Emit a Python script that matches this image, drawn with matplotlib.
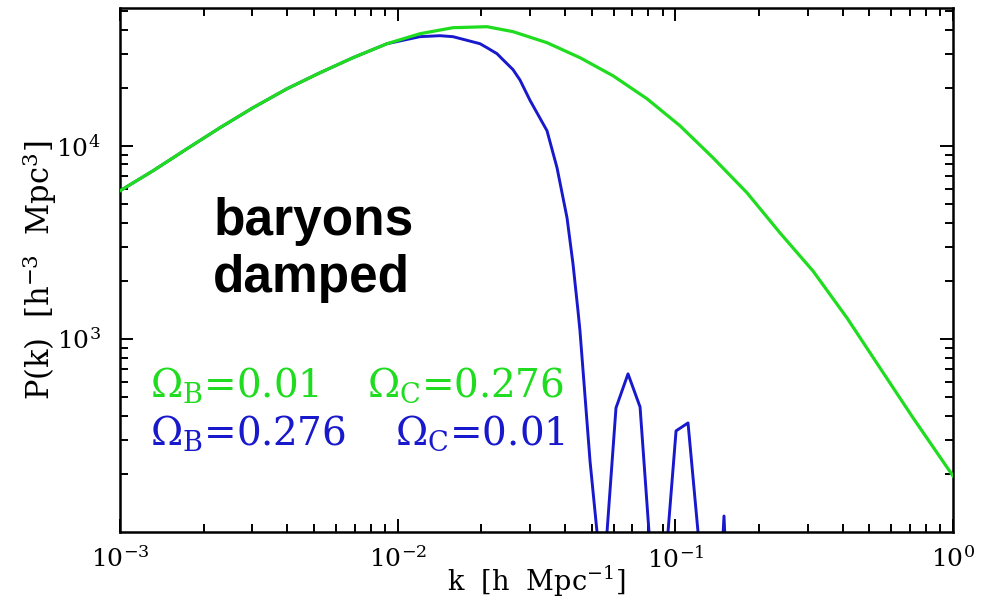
import numpy as np
import matplotlib
matplotlib.use('Agg')
import matplotlib.pyplot as plt
from matplotlib.ticker import LogLocator, LogFormatterMathtext, NullFormatter

# power spectrum, k in h/Mpc, P in h^-3 Mpc^3
k_green = [0.001, 0.001315, 0.001743, 0.002291, 0.003013, 0.003995, 0.005252,
           0.006904, 0.009155, 0.01203, 0.01582, 0.02098, 0.026, 0.0345,
           0.04535, 0.05963, 0.07904, 0.1039, 0.1367, 0.1812, 0.2381, 0.313,
           0.415, 0.546, 0.718, 1.0]
P_green = [5846, 7421, 9650, 12400, 15740, 19740, 23890,
           28580, 33770, 38040, 40870, 41360, 39000, 34180,
           28580, 23050, 17520, 12700, 8665, 5708, 3541, 2249,
           1285, 707, 390, 195]

k_blue = [0.001, 0.001315, 0.001743, 0.002291, 0.003013, 0.003995, 0.005252,
          0.006904, 0.009155, 0.01203, 0.0142, 0.01582, 0.01979, 0.02098,
          0.02279, 0.02395, 0.02602, 0.02758, 0.02996, 0.0345, 0.03749, 0.04073,
          0.0428, 0.04461, 0.04535, 0.04929, 0.05223, 0.0545, 0.05675, 0.06113,
          0.06755, 0.07464, 0.08038, 0.087, 0.0941, 0.1006, 0.1111, 0.1207,
          0.135, 0.146, 0.1497, 0.153]
P_blue = [5846, 7421, 9650, 12400, 15740, 19740, 23890,
          28580, 33770, 36720, 37150, 36720, 33770, 32190,
          29980, 27900, 24800, 21900, 17200, 11960, 7692, 4237,
          2446, 1397, 1100, 233, 100, 30, 100, 439,
          659, 444, 100, 30, 100, 334, 367, 100,
          30, 60, 121, 60]

green = '#1fdc1f'
blue = '#1818cc'

plt.rcParams['font.family'] = ['DejaVu Serif']
plt.rcParams['mathtext.fontset'] = 'dejavuserif'

fig = plt.figure(figsize=(9.85, 6.01), dpi=100)
ax = fig.add_axes([120/985, 69/601, 833/985, 524.5/601])

ax.plot(k_green, P_green, color=green, lw=2.3, zorder=3)
ax.plot(k_blue, P_blue, color=blue, lw=2.1, zorder=2)

ax.set_xscale('log')
ax.set_yscale('log')
ax.set_xlim(1e-3, 1.0)
ax.set_ylim(100, 52000)

ax.xaxis.set_major_locator(LogLocator(base=10, numticks=10))
ax.xaxis.set_minor_locator(LogLocator(base=10, subs=np.arange(2, 10), numticks=20))
ax.set_yticks([1e3, 1e4])
ax.yaxis.set_minor_locator(LogLocator(base=10, subs=np.arange(2, 10), numticks=20))
ax.xaxis.set_major_formatter(LogFormatterMathtext())
ax.yaxis.set_major_formatter(LogFormatterMathtext())
ax.yaxis.set_minor_formatter(NullFormatter())
ax.xaxis.set_minor_formatter(NullFormatter())

ax.tick_params(which='both', direction='in', top=True, right=True, width=1.4, color='black')
ax.tick_params(which='major', length=9.5, labelsize=18)
ax.tick_params(which='minor', length=5.5)
ax.tick_params(axis='x', which='major', pad=10)
ax.tick_params(axis='y', which='major', pad=14)
for s in ax.spines.values():
    s.set_linewidth(1.8)

ax.set_xlabel('k  [h  Mpc$^{-1}$]', fontsize=19.5, labelpad=-6)
ax.set_ylabel('P(k)  [h$^{-3}$  Mpc$^{3}$]', fontsize=22, labelpad=-2)

ax.text(0.112, 0.4576, 'baryons\ndamped', transform=ax.transAxes,
        family='Liberation Sans', fontweight='bold', fontsize=37,
        linespacing=1.2, va='baseline', ha='left')

ax.text(0.036, 0.258, r'$\Omega_{\rm B}$=0.01', transform=ax.transAxes,
        color=green, fontsize=28, va='baseline', ha='left')
ax.text(0.296, 0.258, r'$\Omega_{\rm C}$=0.276', transform=ax.transAxes,
        color=green, fontsize=28, va='baseline', ha='left')
ax.text(0.036, 0.166, r'$\Omega_{\rm B}$=0.276', transform=ax.transAxes,
        color=blue, fontsize=28, va='baseline', ha='left')
ax.text(0.330, 0.166, r'$\Omega_{\rm C}$=0.01', transform=ax.transAxes,
        color=blue, fontsize=28, va='baseline', ha='left')

fig.savefig('out.png', dpi=100)
